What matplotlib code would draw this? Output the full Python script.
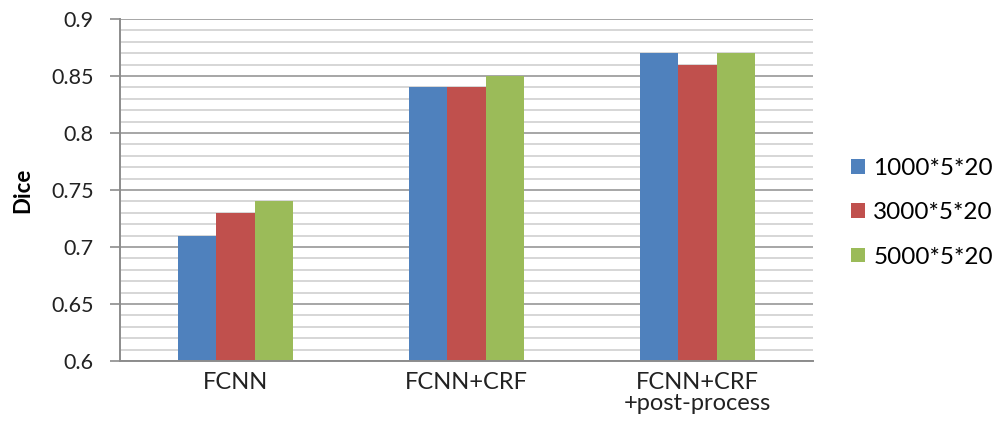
import numpy as np
import matplotlib.pyplot as plt
from matplotlib.ticker import MultipleLocator, FormatStrFormatter

categories = ['FCNN', 'FCNN+CRF', 'FCNN+CRF\n+post-process']
series_names = ['1000*5*20', '3000*5*20', '5000*5*20']
dice_1000 = [0.71, 0.84, 0.87]
dice_3000 = [0.73, 0.84, 0.86]
dice_5000 = [0.74, 0.85, 0.87]
colors = ['#4F81BD', '#C0504D', '#9BBB59']

plt.rcParams['font.family'] = ['Lato', 'DejaVu Sans']

fig = plt.figure(figsize=(10.05, 4.33), dpi=100)
ax = fig.add_axes([0.1194, 0.1663, 0.6896, 0.7898])

x = np.arange(len(categories))
w = 0.166
for i, (vals, name) in enumerate(zip([dice_1000, dice_3000, dice_5000], series_names)):
    ax.bar(x + (i - 1) * w, vals, width=w, color=colors[i], label=name, zorder=3)

ax.set_xlim(-0.5, 2.5)
ax.set_ylim(0.6, 0.9)
ax.yaxis.set_major_locator(MultipleLocator(0.05))
ax.yaxis.set_minor_locator(MultipleLocator(0.01))
ax.yaxis.set_major_formatter(FormatStrFormatter('%g'))
ax.grid(which='major', axis='y', color='#a6a6a6', linewidth=1.4, zorder=0)
ax.grid(which='minor', axis='y', color='#d0d0d0', linewidth=1.2, zorder=0)

ax.set_xticks(x)
ax.set_xticklabels(categories, fontsize=17, color='#222222', linespacing=1.0)
ax.tick_params(axis='x', length=0, pad=8)
ax.tick_params(axis='y', which='major', length=7, width=1.2, color='#8c8c8c',
               labelsize=15.5, labelcolor='#222222', pad=12)
ax.tick_params(axis='y', which='minor', length=0)

for side in ['top', 'right']:
    ax.spines[side].set_visible(False)
for side in ['left', 'bottom']:
    ax.spines[side].set_color('#8c8c8c')
    ax.spines[side].set_linewidth(1.4)
    ax.spines[side].set_zorder(4)

ax.set_ylabel('Dice', fontsize=16, fontweight='bold')
ax.yaxis.set_label_coords(-0.1255, 0.5)

fig.legend(loc='center left', bbox_to_anchor=(851 / 1005, (433 - 213) / 433),
           frameon=False, borderaxespad=0, borderpad=0,
           fontsize=17.5, handlelength=0.57, handleheight=0.57, handletextpad=0.35,
           labelspacing=0.95)

fig.savefig('out.png', dpi=100)
